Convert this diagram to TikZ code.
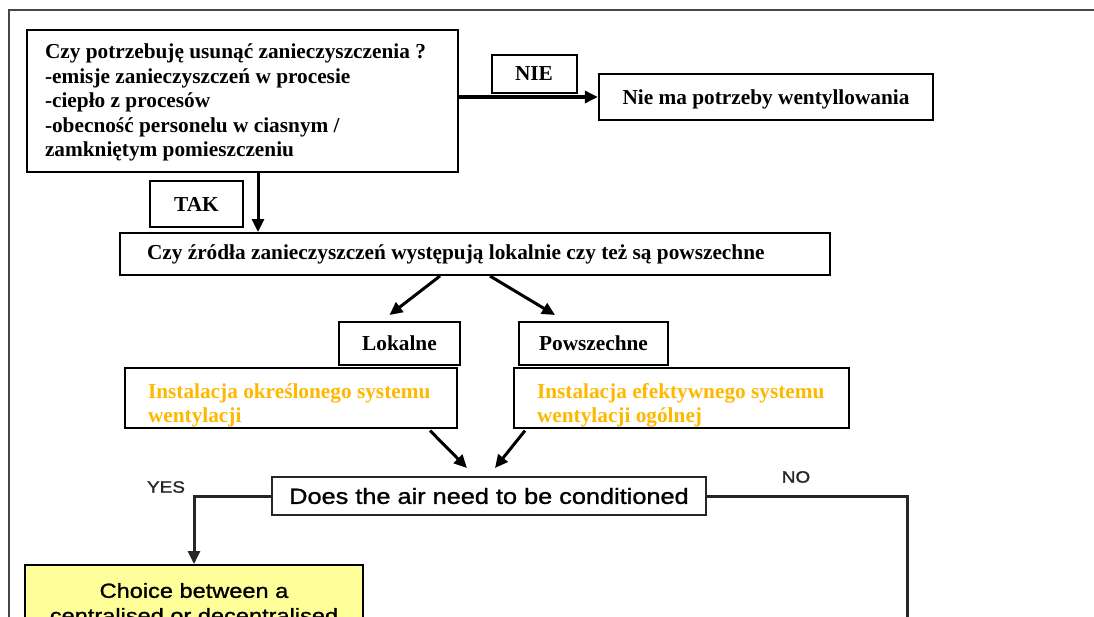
\documentclass[tikz,border=0pt]{standalone}
\usepackage{fontspec}
\usetikzlibrary{arrows.meta,calc}
\newfontfamily\plserif{Liberation Serif}
\newfontfamily\ensans[FakeStretch=1.15,FakeBold=1.2]{Liberation Sans}
\definecolor{textorange}{RGB}{255,184,0}
\definecolor{noteyellow}{RGB}{255,255,153}
\definecolor{framegray}{RGB}{70,70,70}

\begin{document}
\begin{tikzpicture}[x=1pt,y=-1pt,
  serifbox/.style={draw=black, line width=2pt, fill=white, inner ysep=0pt,
    font=\plserif\bfseries\fontsize{21.3}{24.5}\selectfont},
  % the font's own word space instead of the wider one set by align=left
  leftbox/.style n args={3}{serifbox, align=left, inner xsep=#1,
    text width=#2, minimum height=#3,
    execute at begin node={\spaceskip=0pt\xspaceskip=0pt\relax}},
  tagbox/.style n args={2}{serifbox, inner xsep=0pt, minimum width=#1, minimum height=#2},
  sansbox/.style={draw=black!85, line width=2pt, fill=white, inner sep=0pt,
    font=\ensans\fontsize{22}{25}\selectfont},
  answer/.style={font=\ensans\fontsize{16.5}{19}\selectfont, text=black!85, inner sep=0pt},
  arr/.style={line width=3pt, -{Triangle[length=13pt,width=12pt]}},
  flowline/.style={line width=3pt, draw=black!85},
]
\useasboundingbox (0,0) rectangle (1094,616);
\clip (0,0) rectangle (1094,616);

% outer page frame
\draw[framegray, line width=1.6pt] (9,640) -- (9,10) -- (1100,10);

% first question and the NIE branch
\node[leftbox={18pt}{395pt}{142pt}] (b1) at (242.5,101)
  {\rule{0pt}{18.5pt}Czy potrzebuję usunąć zanieczyszczenia ?\\
   -emisje zanieczyszczeń w procesie\\
   -ciepło z procesów\\
   -obecność personelu w ciasnym /\\
   zamkniętym pomieszczeniu};
\node[tagbox={85pt}{38pt}] (nie) at (534,74) {NIE};
\node[tagbox={334pt}{46pt}, line width=2.4pt, text height=19pt, text depth=4.6pt] (nomv) at (766,97)
  {Nie ma potrzeby wentyllowania};
\draw[arr, line width=3.6pt] (b1.east |- nomv.west) -- (nomv.west);

% TAK branch
\node[tagbox={93pt}{46pt}] (tak) at (196.5,204) {TAK};
\node[leftbox={27pt}{656pt}{42pt}] (b2) at (475,254)
  {Czy źródła zanieczyszczeń występują lokalnie czy też są powszechne};
\draw[arr] (b1.south) ++(15.5,0) coordinate (takx) -- (takx |- b2.north);

% local / general sources
\node[tagbox={121pt}{43pt}] (lok) at (399.5,343.5) {Lokalne};
\node[tagbox={149pt}{43pt}] (pow) at (593.5,343.5) {Powszechne};
\draw[arr] ($(b2.south)+(-35,0)$) -- ($(lok.north)+(-10,-6)$);
\draw[arr] ($(b2.south)+(15,0)$) -- ($(pow.north)+(-38.5,-6)$);

\node[leftbox={23pt}{286pt}{58pt}, text=textorange] (ol) at (291,398)
  {\rule{0pt}{30pt}\mbox{Instalacja określonego systemu}\\ wentylacji};
\node[leftbox={23pt}{289pt}{58pt}, text=textorange] (or) at (681.5,398)
  {\rule{0pt}{30pt}\mbox{Instalacja efektywnego systemu}\\ wentylacji ogólnej};

% air conditioning question
\node[sansbox, minimum width=434pt, minimum height=38pt] (air) at (489,496)
  {Does the air need to be conditioned};
\draw[arr] ($(ol.south)+(139,2)$) -- ($(air.north)+(-22,-8)$);
\draw[arr] ($(or.south)+(-156.5,2)$) -- ($(air.north)+(6,-8)$);

\node[answer] (yes) at (166,487) {YES};
\node[answer] (no) at (796,477) {NO};

\node[draw=black, line width=2pt, fill=noteyellow, anchor=north, align=center,
  inner xsep=4pt, inner ysep=18pt, minimum width=338pt,
  font=\ensans\fontsize{20.5}{25}\selectfont] (choice) at (194,564)
  {Choice between a\\ centralised or decentralised};
\draw[arr, draw=black!85] (air.west) -| (choice.north);

\coordinate (nodown) at (907,640);
\draw[flowline] (air.east) -| (nodown);
\end{tikzpicture}
\end{document}
